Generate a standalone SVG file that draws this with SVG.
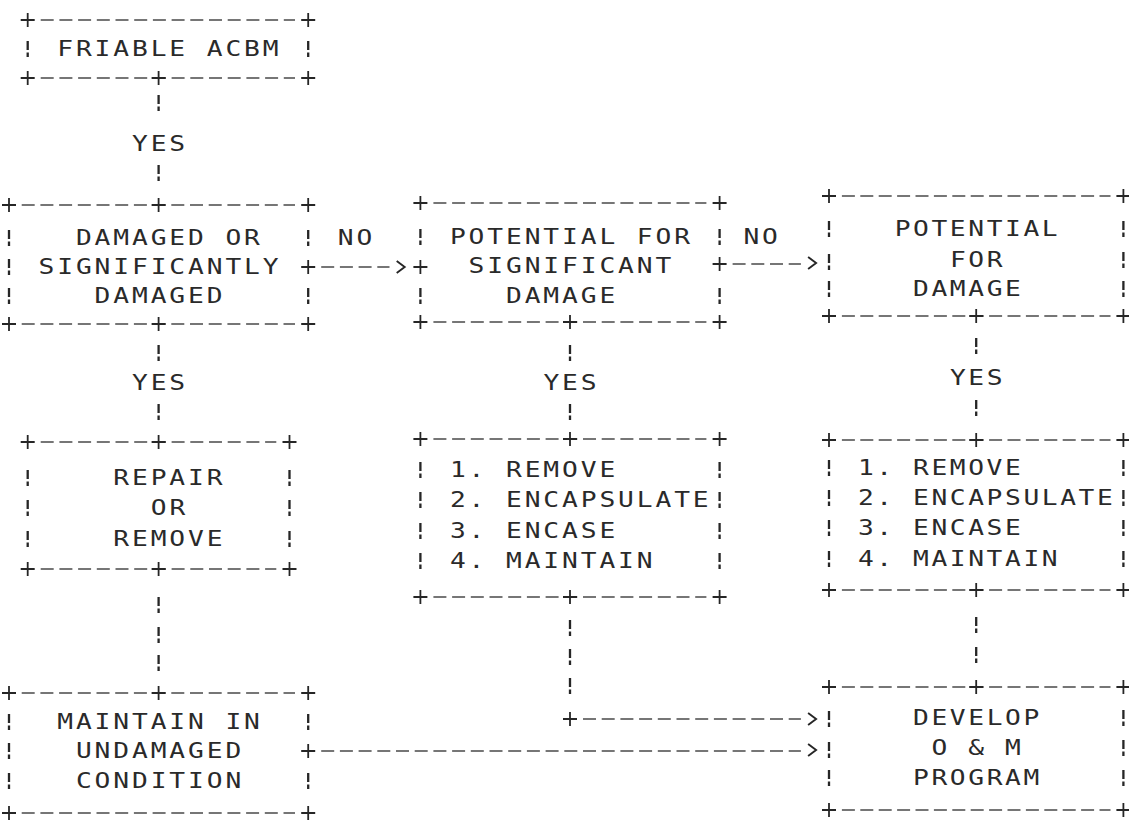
<svg xmlns="http://www.w3.org/2000/svg" width="1129" height="823" viewBox="0 0 1129 823">
<style>
.t,.r{font-family:"DejaVu Sans Mono","Liberation Mono",monospace;font-size:21px;fill:#2a2a2a;white-space:pre;transform-box:fill-box;transform-origin:0 50%;transform:scaleX(1.25)}
.t{letter-spacing:2.31px}
.r{letter-spacing:2.07px}
.d{stroke:#4a4a4a;stroke-width:1.4;stroke-dasharray:13 5.7;fill:none}
.dr{stroke:#4a4a4a;stroke-width:1.4;stroke-dasharray:13 5.4;fill:none}
</style>
<defs>
<path id="pl" d="M-7,0 H7 M0,-7 V7" stroke="#262626" stroke-width="1.8" fill="none"/>
<path id="br" d="M0,-8 V1 M0,3.5 V8" stroke="#262626" stroke-width="2.3" fill="none"/>
<path id="ah" d="M-5,-6 L3,0 L-5,6" stroke="#262626" stroke-width="1.9" fill="none"/>
</defs>
<rect width="1129" height="823" fill="#ffffff"/>

<g id="node-friable">
<line class="d" x1="40.7" y1="20" x2="295" y2="20"/>
<line class="d" x1="40.7" y1="78" x2="295" y2="78"/>
<use href="#pl" x="27.7" y="20"/><use href="#pl" x="308.2" y="20"/>
<use href="#pl" x="27.7" y="78"/><use href="#pl" x="158.6" y="78"/><use href="#pl" x="308.2" y="78"/>
<use href="#br" x="27.7" y="49"/><use href="#br" x="308.2" y="49"/>
<text class="t" x="57.2" y="56">FRIABLE ACBM</text>
</g>

<g id="node-damaged">
<line class="d" x1="21.7" y1="205" x2="295" y2="205"/>
<line class="d" x1="21.7" y1="324" x2="295" y2="324"/>
<use href="#pl" x="9" y="205"/><use href="#pl" x="158.6" y="205"/><use href="#pl" x="308.2" y="205"/>
<use href="#pl" x="9" y="324"/><use href="#pl" x="158.6" y="324"/><use href="#pl" x="308.2" y="324"/>
<use href="#br" x="9" y="238"/><use href="#br" x="9" y="267"/><use href="#br" x="9" y="296"/>
<use href="#br" x="308.2" y="238"/><use href="#br" x="308.2" y="296"/>
<text class="t" x="75.9" y="245">DAMAGED OR</text>
<text class="t" x="38.5" y="274">SIGNIFICANTLY</text>
<text class="t" x="94.6" y="303">DAMAGED</text>
</g>

<g id="node-potential-significant">
<line class="d" x1="433.4" y1="203" x2="706.4" y2="203"/>
<line class="d" x1="433.4" y1="322" x2="706.4" y2="322"/>
<use href="#pl" x="420.4" y="203"/><use href="#pl" x="719.6" y="203"/>
<use href="#pl" x="420.4" y="322"/><use href="#pl" x="570" y="322"/><use href="#pl" x="719.6" y="322"/>
<use href="#br" x="420.4" y="237"/><use href="#br" x="420.4" y="296"/>
<use href="#br" x="719.6" y="237"/><use href="#br" x="719.6" y="296"/>
<text class="t" x="449.9" y="244">POTENTIAL FOR</text>
<text class="t" x="468.6" y="273">SIGNIFICANT</text>
<text class="t" x="506" y="303">DAMAGE</text>
</g>

<g id="node-potential-damage">
<line class="dr" x1="841.9" y1="196" x2="1110.5" y2="196"/>
<line class="dr" x1="841.9" y1="316" x2="1110.5" y2="316"/>
<use href="#pl" x="829" y="196"/><use href="#pl" x="1123.4" y="196"/>
<use href="#pl" x="829" y="316"/><use href="#pl" x="976.2" y="316"/><use href="#pl" x="1123.4" y="316"/>
<use href="#br" x="829" y="229"/><use href="#br" x="829" y="262"/><use href="#br" x="829" y="289"/>
<use href="#br" x="1123.4" y="229"/><use href="#br" x="1123.4" y="260"/><use href="#br" x="1123.4" y="289"/>
<text class="r" x="894.7" y="236">POTENTIAL</text>
<text class="r" x="949.9" y="267">FOR</text>
<text class="r" x="913.1" y="296">DAMAGE</text>
</g>

<g id="node-repair">
<line class="d" x1="40.7" y1="442" x2="276.3" y2="442"/>
<line class="d" x1="40.7" y1="569" x2="276.3" y2="569"/>
<use href="#pl" x="27.7" y="442"/><use href="#pl" x="158.6" y="442"/><use href="#pl" x="289.5" y="442"/>
<use href="#pl" x="27.7" y="569"/><use href="#pl" x="158.6" y="569"/><use href="#pl" x="289.5" y="569"/>
<use href="#br" x="27.7" y="478"/><use href="#br" x="27.7" y="508"/><use href="#br" x="27.7" y="539"/>
<use href="#br" x="289.5" y="478"/><use href="#br" x="289.5" y="508"/><use href="#br" x="289.5" y="539"/>
<text class="t" x="113.3" y="485">REPAIR</text>
<text class="t" x="150.7" y="515">OR</text>
<text class="t" x="113.3" y="546">REMOVE</text>
</g>

<g id="node-options-middle">
<line class="d" x1="433.4" y1="439" x2="706.4" y2="439"/>
<line class="d" x1="433.4" y1="597" x2="706.4" y2="597"/>
<use href="#pl" x="420.4" y="439"/><use href="#pl" x="570" y="439"/><use href="#pl" x="719.6" y="439"/>
<use href="#pl" x="420.4" y="597"/><use href="#pl" x="570" y="597"/><use href="#pl" x="719.6" y="597"/>
<use href="#br" x="420.4" y="470"/><use href="#br" x="420.4" y="500"/><use href="#br" x="420.4" y="531"/><use href="#br" x="420.4" y="561"/>
<use href="#br" x="719.6" y="470"/><use href="#br" x="719.6" y="500"/><use href="#br" x="719.6" y="531"/><use href="#br" x="719.6" y="561"/>
<text class="t" x="449.9" y="477">1. REMOVE</text>
<text class="t" x="449.9" y="507">2. ENCAPSULATE</text>
<text class="t" x="449.9" y="538">3. ENCASE</text>
<text class="t" x="449.9" y="568">4. MAINTAIN</text>
</g>

<g id="node-options-right">
<line class="dr" x1="841.9" y1="440" x2="1110.5" y2="440"/>
<line class="dr" x1="841.9" y1="590" x2="1110.5" y2="590"/>
<use href="#pl" x="829" y="440"/><use href="#pl" x="976.2" y="440"/><use href="#pl" x="1123.4" y="440"/>
<use href="#pl" x="829" y="590"/><use href="#pl" x="976.2" y="590"/><use href="#pl" x="1123.4" y="590"/>
<use href="#br" x="829" y="468"/><use href="#br" x="829" y="498"/><use href="#br" x="829" y="528"/><use href="#br" x="829" y="559"/>
<use href="#br" x="1123.4" y="468"/><use href="#br" x="1123.4" y="498"/><use href="#br" x="1123.4" y="528"/><use href="#br" x="1123.4" y="559"/>
<text class="r" x="857.9" y="475">1. REMOVE</text>
<text class="r" x="857.9" y="505">2. ENCAPSULATE</text>
<text class="r" x="857.9" y="535">3. ENCASE</text>
<text class="r" x="857.9" y="566">4. MAINTAIN</text>
</g>

<g id="node-maintain">
<line class="d" x1="21.7" y1="693" x2="295" y2="693"/>
<line class="d" x1="21.7" y1="813" x2="295" y2="813"/>
<use href="#pl" x="9" y="693"/><use href="#pl" x="158.6" y="693"/><use href="#pl" x="308.2" y="693"/>
<use href="#pl" x="9" y="813"/><use href="#pl" x="308.2" y="813"/>
<use href="#br" x="9" y="722"/><use href="#br" x="9" y="751"/><use href="#br" x="9" y="781"/>
<use href="#br" x="308.2" y="722"/><use href="#br" x="308.2" y="781"/>
<text class="t" x="57.2" y="729">MAINTAIN IN</text>
<text class="t" x="75.9" y="758">UNDAMAGED</text>
<text class="t" x="75.9" y="788">CONDITION</text>
</g>

<g id="node-develop">
<line class="dr" x1="841.9" y1="687" x2="1110.5" y2="687"/>
<line class="dr" x1="841.9" y1="810" x2="1110.5" y2="810"/>
<use href="#pl" x="829" y="687"/><use href="#pl" x="976.2" y="687"/><use href="#pl" x="1123.4" y="687"/>
<use href="#pl" x="829" y="810"/><use href="#pl" x="1123.4" y="810"/>
<use href="#br" x="829" y="719"/><use href="#br" x="829" y="750"/><use href="#br" x="829" y="778"/>
<use href="#br" x="1123.4" y="718"/><use href="#br" x="1123.4" y="748"/><use href="#br" x="1123.4" y="778"/>
<text class="r" x="913.1" y="725">DEVELOP</text>
<text class="r" x="931.5" y="755">O &amp; M</text>
<text class="r" x="913.1" y="785">PROGRAM</text>
</g>

<g id="connectors">
<use href="#br" x="158.6" y="103"/>
<text class="t" x="132" y="151">YES</text>
<use href="#br" x="158.6" y="173"/>

<text class="t" x="337.7" y="245">NO</text>
<use href="#pl" x="308.2" y="267"/>
<line class="d" x1="321.2" y1="267" x2="389.5" y2="267"/>
<use href="#ah" x="401.7" y="267"/>
<use href="#pl" x="420.4" y="267"/>

<text class="t" x="743.4" y="244">NO</text>
<use href="#pl" x="719.6" y="264"/>
<line class="d" x1="732.6" y1="264" x2="800.9" y2="264"/>
<use href="#ah" x="813.1" y="263"/>

<use href="#br" x="158.6" y="353"/>
<text class="t" x="132" y="390">YES</text>
<use href="#br" x="158.6" y="412"/>

<use href="#br" x="570" y="353"/>
<text class="t" x="543.4" y="390">YES</text>
<use href="#br" x="570" y="412"/>

<use href="#br" x="976.2" y="346"/>
<text class="r" x="949.9" y="385">YES</text>
<use href="#br" x="976.2" y="408"/>

<use href="#br" x="158.6" y="605"/>
<use href="#br" x="158.6" y="635"/>
<use href="#br" x="158.6" y="663"/>

<use href="#br" x="570" y="628"/>
<use href="#br" x="570" y="657"/>
<use href="#br" x="570" y="686"/>
<use href="#pl" x="570" y="719"/>
<line class="d" x1="583" y1="719" x2="800.9" y2="719"/>
<use href="#ah" x="813.1" y="719"/>

<use href="#br" x="976.2" y="625"/>
<use href="#br" x="976.2" y="655"/>

<use href="#pl" x="308.2" y="751"/>
<line class="d" x1="321.2" y1="751" x2="800.9" y2="751"/>
<use href="#ah" x="813.1" y="750"/>
</g>
</svg>
